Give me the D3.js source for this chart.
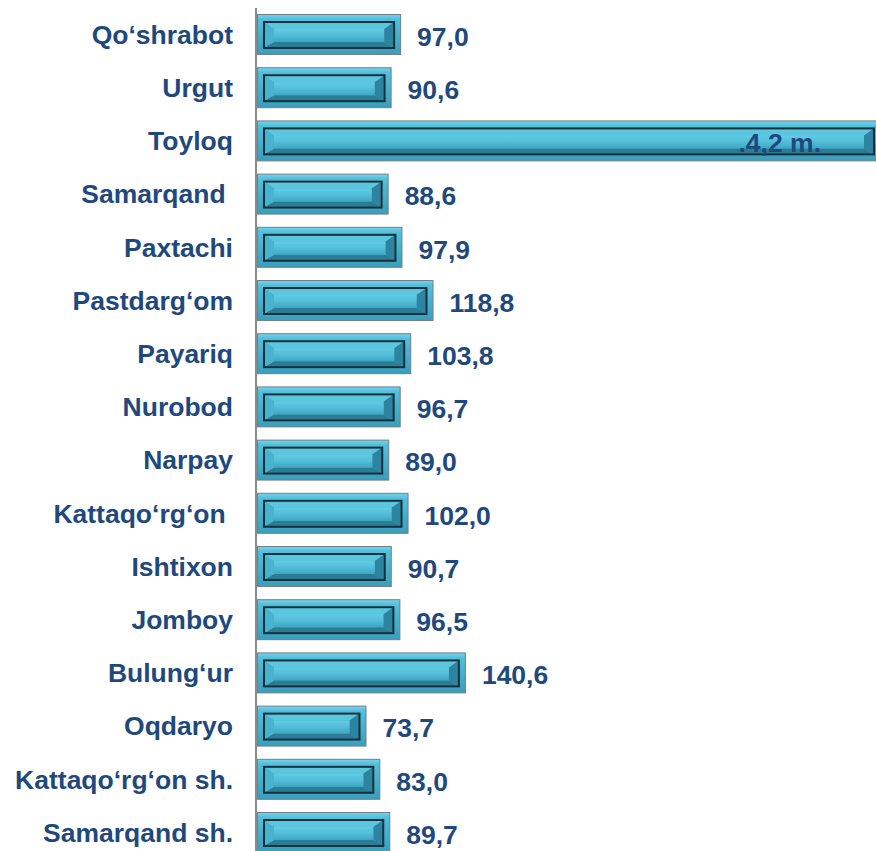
<!DOCTYPE html>
<html lang="uz">
<head>
<meta charset="UTF-8">
<title>Tumanlar bo'yicha</title>
<script src="https://d3js.org/d3.v7.min.js"></script>
<style>
    body {
        margin: 0;
        padding: 0;
        background: #fff;
        overflow: hidden;
    }
    svg {
        display: block;
        font-family: "Liberation Sans", Arial, sans-serif;
    }
    .cat, .val {
        font-size: 26.5px;
        font-weight: bold;
        fill: #1F497D;
        white-space: pre;
    }
</style>
</head>
<body>
<svg id="chart"></svg>
<script>
    // data, top to bottom
    const categories = [
        "Qo\u2018shrabot", "Urgut", "Toyloq", "Samarqand ", "Paxtachi",
        "Pastdarg\u2018om", "Payariq", "Nurobod", "Narpay", "Kattaqo\u2018rg\u2018on ",
        "Ishtixon", "Jomboy", "Bulung\u2018ur", "Oqdaryo",
        "Kattaqo\u2018rg\u2018on sh.", "Samarqand sh."
    ];
    const values = [97.0, 90.6, 420, 88.6, 97.9, 118.8, 103.8, 96.7, 89.0, 102.0,
                    90.7, 96.5, 140.6, 73.7, 83.0, 89.7];
    const valueLabels = ["97,0", "90,6", ".4,2 m.", "88,6", "97,9", "118,8", "103,8", "96,7",
                         "89,0", "102,0", "90,7", "96,5", "140,6", "73,7", "83,0", "89,7"];

    const width = 876, height = 851;
    const svg = d3.select("#chart").attr("width", width).attr("height", height);

    const x = d3.scaleLinear().domain([0, 420]).range([257, 881]);
    const y = d3.scaleBand()
        .domain(categories)
        .range([7.9, 859.1])
        .paddingInner(0.23)
        .paddingOuter(0.115);

    const defs = svg.append("defs");
    function grad(id, stops) {
        const g = defs.append("linearGradient").attr("id", id)
            .attr("x1", 0).attr("y1", 0).attr("x2", 0).attr("y2", 1);
        stops.forEach(s => g.append("stop").attr("offset", s[0]).attr("stop-color", s[1]));
    }
    grad("outerGrad", [[0, "#78d4ea"], [0.12, "#52bfdb"], [1, "#3a9ebb"]]);
    grad("faceGrad", [[0, "#62cce6"], [0.5, "#52bdd8"], [1, "#3fa6c2"]]);

    const inset = 7, bevelX = 10, bevelY = 7;

    const bars = svg.append("g")
        .selectAll("g")
        .data(categories)
        .enter().append("g")
        .attr("transform", d => `translate(${x(0)},${y(d)})`);

    bars.each(function(d, i) {
        const g = d3.select(this);
        const w = x(values[i]) - x(0);
        const h = y.bandwidth();
        // outer frame
        g.append("rect")
            .attr("x", 0.5).attr("y", 0.5)
            .attr("width", w - 1).attr("height", h - 1)
            .attr("fill", "url(#outerGrad)")
            .attr("stroke", "#6f7f86").attr("stroke-width", 1);
        // inner bevelled panel
        const x0 = inset, y0 = inset + 1, x1 = w - inset, y1 = h - inset;
        const fx0 = x0 + bevelX, fy0 = y0 + bevelY, fx1 = x1 - bevelX, fy1 = y1 - bevelY + 1;
        const poly = pts => pts.map(p => p.join(",")).join(" ");
        g.append("polygon").attr("points", poly([[x0, y0], [x1, y0], [fx1, fy0], [fx0, fy0]]))
            .attr("fill", "#5cc6df");
        g.append("polygon").attr("points", poly([[x0, y1], [x1, y1], [fx1, fy1], [fx0, fy1]]))
            .attr("fill", "#2b7d96");
        g.append("polygon").attr("points", poly([[x0, y0], [fx0, fy0], [fx0, fy1], [x0, y1]]))
            .attr("fill", "#49b2ce");
        g.append("polygon").attr("points", poly([[x1, y0], [fx1, fy0], [fx1, fy1], [x1, y1]]))
            .attr("fill", "#2c84a0");
        g.append("rect")
            .attr("x", fx0).attr("y", fy0)
            .attr("width", fx1 - fx0).attr("height", fy1 - fy0)
            .attr("fill", "url(#faceGrad)");
        g.append("rect")
            .attr("x", x0).attr("y", y0)
            .attr("width", x1 - x0).attr("height", y1 - y0)
            .attr("fill", "none")
            .attr("stroke", "#17313c").attr("stroke-width", 2);
    });

    // vertical axis line
    svg.append("line")
        .attr("x1", x(0) - 1).attr("x2", x(0) - 1)
        .attr("y1", 8).attr("y2", height)
        .attr("stroke", "#8c8c8c").attr("stroke-width", 2);

    // category labels
    svg.append("g")
        .selectAll("text")
        .data(categories)
        .enter().append("text")
        .attr("class", "cat")
        .attr("x", 233)
        .attr("y", d => y(d) + y.bandwidth() / 2)
        .attr("dy", "0.35em")
        .attr("text-anchor", "end")
        .text(d => d);

    // value labels
    svg.append("g")
        .selectAll("text")
        .data(categories)
        .enter().append("text")
        .attr("class", "val")
        .attr("x", (d, i) => values[i] > 300 ? x(values[i]) - 60 : x(values[i]) + 16)
        .attr("y", d => y(d) + y.bandwidth() / 2 + 2)
        .attr("dy", "0.35em")
        .attr("text-anchor", (d, i) => values[i] > 300 ? "end" : "start")
        .text((d, i) => valueLabels[i]);
</script>
</body>
</html>
